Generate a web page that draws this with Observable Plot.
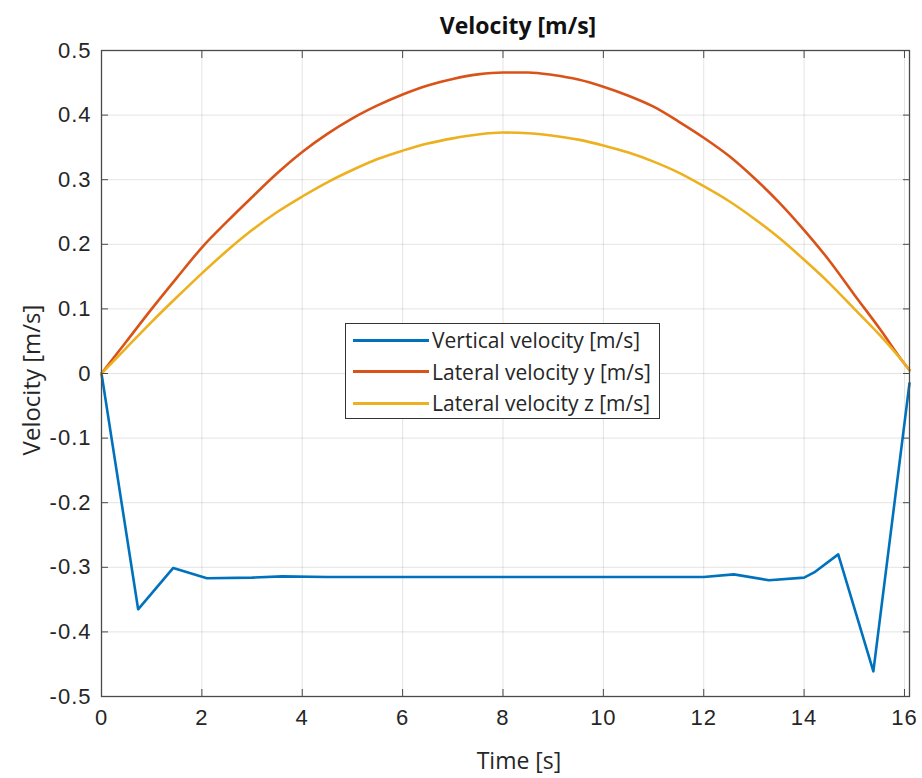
<!DOCTYPE html>
<html>
<head>
<meta charset="utf-8">
<script src="https://cdn.jsdelivr.net/npm/d3@7"></script>
<script src="https://cdn.jsdelivr.net/npm/@observablehq/plot@0.6"></script>
<style>
  body { margin: 0; background: white; }
  #wrap { position: relative; width: 922px; height: 778px; overflow: hidden; background: white; }
  .lbl { position: absolute; font-family: "Open Sans", sans-serif; color: #262626; white-space: nowrap; line-height: 32px; }
  #title { left: 0; width: 1036px; top: 9px; text-align: center; font-size: 23px; font-weight: bold; color: #111; }
  #xlabel { left: 0; width: 1038px; top: 744px; text-align: center; font-size: 23px; }
  #ylabel { left: 31px; top: 380px; font-size: 24px; transform: translate(-50%, -50%) rotate(-90deg); }
  #legend { position: absolute; left: 345px; top: 323px; width: 315px; height: 96px; border: 1px solid #333; background: white; font-family: "Open Sans", sans-serif; font-size: 21px; color: #262626; box-sizing: border-box; }
  .row { position: absolute; left: 7px; height: 30px; display: flex; align-items: center; }
  .sw { width: 76px; height: 3px; margin-right: 3px; }
</style>
</head>
<body>
<div id="wrap">
  <div id="chart"></div>
  <div id="title" class="lbl"></div>
  <div id="xlabel" class="lbl"></div>
  <div id="ylabel" class="lbl"></div>
  <div id="legend"></div>
</div>
<script>
const titleText = "Velocity [m/s]";
const xLabel = "Time [s]";
const yLabel = "Velocity [m/s]";
const seriesNames = ["Vertical velocity [m/s]", "Lateral velocity y [m/s]", "Lateral velocity z [m/s]"];
const seriesColors = ["#0072BD", "#D95319", "#EDB120"];
const xTicks = [0, 2, 4, 6, 8, 10, 12, 14, 16];
const yTicks = [-0.5, -0.4, -0.3, -0.2, -0.1, 0, 0.1, 0.2, 0.3, 0.4, 0.5];

// Vertical velocity [m/s]
const verticalT = [0, 0.73, 1.43, 2.1, 3.0, 3.6, 4.5, 11.0, 12.0, 12.6, 13.3, 14.0, 14.2, 14.68, 15.38, 16.1];
const verticalV = [0, -0.365, -0.301, -0.317, -0.316, -0.314, -0.315, -0.315, -0.315, -0.311, -0.320, -0.316, -0.308, -0.280, -0.461, -0.015];

// Lateral velocity y [m/s]
const lateralYT = [0, 0.5, 1, 1.5, 2, 2.5, 3, 3.5, 4, 4.5, 5, 5.5, 6, 6.5, 7, 7.5, 8, 8.5, 9, 9.5, 10, 10.5, 11, 11.5, 12, 12.5, 13, 13.5, 14, 14.5, 15, 15.5, 16, 16.1];
const lateralYV = [0, 0.05, 0.1, 0.148, 0.195, 0.235, 0.273, 0.31, 0.343, 0.371, 0.395, 0.415, 0.432, 0.446, 0.456, 0.463, 0.466, 0.466, 0.462, 0.455, 0.444, 0.43, 0.413, 0.39, 0.365, 0.337, 0.303, 0.265, 0.222, 0.175, 0.122, 0.07, 0.015, 0.005];

// Lateral velocity z [m/s]
const lateralZT = lateralYT;
const lateralZV = [0, 0.04, 0.08, 0.118, 0.155, 0.19, 0.222, 0.25, 0.274, 0.296, 0.315, 0.332, 0.345, 0.356, 0.364, 0.37, 0.373, 0.372, 0.368, 0.362, 0.353, 0.342, 0.328, 0.311, 0.29, 0.267, 0.24, 0.21, 0.176, 0.14, 0.1, 0.06, 0.015, 0.005];

const toRows = (ts, vs) => ts.map((t, i) => ({t, v: vs[i]}));
const series = [toRows(verticalT, verticalV), toRows(lateralYT, lateralYV), toRows(lateralZT, lateralZV)];
const curves = ["linear", "monotone-x", "monotone-x"];

const fmt = d => String(d);
const frameColor = "#4a4a4a";

const chart = Plot.plot({
  width: 922,
  height: 778,
  marginLeft: 101,
  marginRight: 13,
  marginTop: 50,
  marginBottom: 82,
  x: {domain: [0, 16.1]},
  y: {domain: [-0.5, 0.5]},
  style: {fontFamily: "'Liberation Sans', Arial, sans-serif", fontSize: "22px", letterSpacing: "1px", color: "#262626", background: "white", overflow: "visible"},
  marks: [
    Plot.gridX(xTicks, {stroke: "#000", strokeOpacity: 0.11, strokeWidth: 1}),
    Plot.gridY(yTicks, {stroke: "#000", strokeOpacity: 0.11, strokeWidth: 1}),
    ...series.map((s, i) => Plot.line(s, {x: "t", y: "v", stroke: seriesColors[i], strokeWidth: 2.6, curve: curves[i]})),
    Plot.frame({stroke: frameColor, strokeWidth: 1.3}),
    Plot.axisX(xTicks, {anchor: "bottom", tickSize: 0, tickPadding: 13, tickFormat: fmt, label: null, fill: "#262626"}),
    Plot.axisX(xTicks, {anchor: "bottom", tickSize: -7, text: null, label: null, stroke: frameColor}),
    Plot.axisX(xTicks, {anchor: "top", tickSize: -7, text: null, label: null, stroke: frameColor}),
    Plot.axisY(yTicks, {anchor: "left", tickSize: 0, tickPadding: 10, tickFormat: fmt, label: null, fill: "#262626"}),
    Plot.axisY(yTicks, {anchor: "left", tickSize: -7, text: null, label: null, stroke: frameColor}),
    Plot.axisY(yTicks, {anchor: "right", tickSize: -7, text: null, label: null, stroke: frameColor})
  ]
});
document.getElementById("chart").appendChild(chart);

document.getElementById("title").textContent = titleText;
document.getElementById("xlabel").textContent = xLabel;
document.getElementById("ylabel").textContent = yLabel;

const legend = document.getElementById("legend");
seriesNames.forEach((name, i) => {
  const row = document.createElement("div");
  row.className = "row";
  row.style.top = (1 + i * 31.5) + "px";
  const sw = document.createElement("div");
  sw.className = "sw";
  sw.style.background = seriesColors[i];
  const tx = document.createElement("span");
  tx.textContent = name;
  row.appendChild(sw);
  row.appendChild(tx);
  legend.appendChild(row);
});
</script>
</body>
</html>
